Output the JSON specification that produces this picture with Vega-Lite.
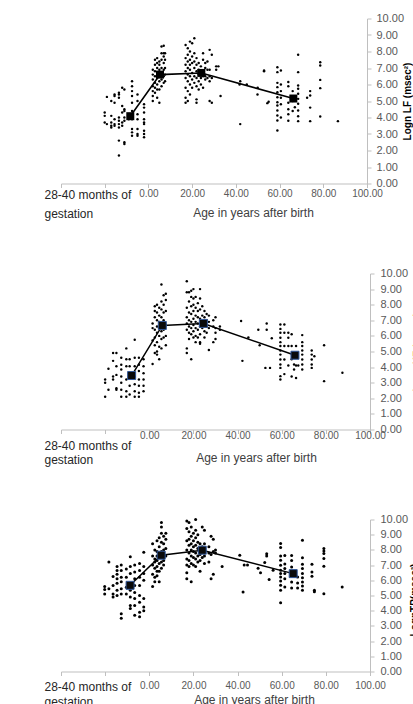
{
  "$schema": "https://vega.github.io/schema/vega-lite/v6.json",
  "padding": {"left": 44, "top": 12.5, "right": 0, "bottom": 0},
  "bounds": "flush",
  "spacing": 90,
  "config": {"view": {"stroke": null}, "font": "Liberation Sans"},
  "datasets": {
    "s1": [
      {"x":-20,"y":4.3},{"x":-20,"y":4.1},{"x":-20,"y":3.7},{"x":-19,"y":5.25},{"x":-19,"y":3.6},
      {"x":-17,"y":5.0},{"x":-17,"y":4.1},{"x":-17,"y":3.7},{"x":-17,"y":3.5},{"x":-17,"y":3.4},
      {"x":-15.5,"y":5.4},{"x":-15.5,"y":5.3},{"x":-15.5,"y":4.9},{"x":-15.5,"y":3.9},{"x":-15.5,"y":3.6},{"x":-15.5,"y":3.5},
      {"x":-13.5,"y":5.5},{"x":-13.5,"y":5.4},{"x":-13.5,"y":5.2},{"x":-13.5,"y":4.0},{"x":-13.5,"y":3.8},{"x":-13.5,"y":3.6},{"x":-13.5,"y":3.4},{"x":-13.5,"y":2.6},{"x":-13.5,"y":1.7},
      {"x":-12,"y":5.8},{"x":-12,"y":4.7},{"x":-12,"y":4.3},{"x":-12,"y":3.7},{"x":-12,"y":3.5},
      {"x":-11,"y":5.7},{"x":-11,"y":4.5},{"x":-11,"y":4.4},{"x":-11,"y":4.0},{"x":-11,"y":3.8},{"x":-11,"y":2.5},{"x":-11,"y":2.4},
      {"x":-9,"y":4.2},{"x":-9,"y":4.0},{"x":-9,"y":3.9},
      {"x":-7.5,"y":6.2},{"x":-7.5,"y":5.9},{"x":-7.5,"y":5.6},{"x":-7.5,"y":5.3},{"x":-7.5,"y":4.9},{"x":-7.5,"y":4.4},{"x":-7.5,"y":3.9},{"x":-7.5,"y":3.3},{"x":-7.5,"y":3.1},{"x":-7.5,"y":2.9},
      {"x":-5,"y":5.4},{"x":-5,"y":5.0},{"x":-5,"y":4.2},{"x":-5,"y":3.9},{"x":-5,"y":3.3},{"x":-5,"y":3.0},{"x":-5,"y":2.9},
      {"x":-2,"y":4.8},{"x":-2,"y":4.6},{"x":-2,"y":4.3},{"x":-2,"y":3.9},{"x":-2,"y":3.7},{"x":-2,"y":3.6},{"x":-2,"y":3.2},{"x":-2,"y":3.0},{"x":-2,"y":2.8},
      {"x":2,"y":5.0},{"x":2,"y":5.3},{"x":2,"y":5.6},{"x":2,"y":5.9},{"x":2,"y":6.3},{"x":2,"y":6.6},{"x":2,"y":6.9},
      {"x":3,"y":5.5},{"x":3,"y":5.8},{"x":3,"y":6.1},{"x":3,"y":6.5},{"x":3,"y":6.8},{"x":3,"y":7.2},{"x":3,"y":7.5},
      {"x":4,"y":5.2},{"x":4,"y":5.7},{"x":4,"y":6.0},{"x":4,"y":6.4},{"x":4,"y":6.7},{"x":4,"y":7.0},{"x":4,"y":7.3},{"x":4,"y":7.6},
      {"x":5,"y":4.9},{"x":5,"y":5.7},{"x":5,"y":6.2},{"x":5,"y":6.6},{"x":5,"y":6.9},{"x":5,"y":7.2},{"x":5,"y":7.4},
      {"x":6,"y":5.9},{"x":6,"y":6.3},{"x":6,"y":6.7},{"x":6,"y":7.0},{"x":6,"y":7.5},{"x":6,"y":7.9},{"x":6,"y":8.3},
      {"x":7,"y":6.1},{"x":7,"y":6.5},{"x":7,"y":6.9},{"x":7,"y":7.3},{"x":7,"y":7.7},{"x":7,"y":7.9},{"x":7,"y":8.35},
      {"x":7.6,"y":6.2},{"x":7.6,"y":6.6},{"x":7.6,"y":7.0},{"x":7.6,"y":7.5},{"x":7.6,"y":7.9},
      {"x":17,"y":8.4},{"x":17,"y":7.6},{"x":17,"y":7.2},{"x":17,"y":6.8},{"x":17,"y":6.4},{"x":17,"y":5.8},{"x":17,"y":5.2},{"x":17,"y":4.9},
      {"x":18,"y":8.2},{"x":18,"y":7.8},{"x":18,"y":7.4},{"x":18,"y":7.0},{"x":18,"y":6.6},{"x":18,"y":6.2},{"x":18,"y":5.6},{"x":18,"y":5.0},
      {"x":19,"y":8.6},{"x":19,"y":8.0},{"x":19,"y":7.5},{"x":19,"y":7.2},{"x":19,"y":6.9},{"x":19,"y":6.5},{"x":19,"y":6.0},{"x":19,"y":5.4},
      {"x":20,"y":8.5},{"x":20,"y":7.7},{"x":20,"y":7.3},{"x":20,"y":6.7},{"x":20,"y":6.3},{"x":20,"y":5.8},
      {"x":21,"y":8.8},{"x":21,"y":7.9},{"x":21,"y":7.4},{"x":21,"y":7.0},{"x":21,"y":6.5},{"x":21,"y":6.1},
      {"x":22,"y":7.6},{"x":22,"y":7.2},{"x":22,"y":6.8},{"x":22,"y":6.4},{"x":22,"y":5.9},{"x":22,"y":5.1},{"x":22,"y":4.9},
      {"x":23,"y":7.3},{"x":23,"y":6.9},{"x":23,"y":6.6},{"x":23,"y":6.2},{"x":23,"y":5.7},
      {"x":24,"y":7.1},{"x":24,"y":6.7},{"x":24,"y":6.4},{"x":24,"y":6.0},
      {"x":25,"y":7.9},{"x":25,"y":7.5},{"x":25,"y":6.8},{"x":25,"y":6.5},{"x":25,"y":5.8},
      {"x":26,"y":7.3},{"x":26,"y":7.0},{"x":26,"y":6.5},{"x":26,"y":6.3},
      {"x":27,"y":7.4},{"x":27,"y":6.9},{"x":27,"y":6.4},
      {"x":28,"y":8.1},{"x":28,"y":6.9},{"x":28,"y":6.5},{"x":28,"y":6.2},{"x":28,"y":5.0},
      {"x":29,"y":7.8},{"x":29,"y":6.4},{"x":29,"y":4.9},{"x":31,"y":7.1},{"x":31,"y":6.9},{"x":32,"y":7.1},{"x":33,"y":5.3},
      {"x":42,"y":6.2},{"x":41.7,"y":6.0},{"x":52.9,"y":6.8},{"x":52.9,"y":6.85},{"x":49.9,"y":5.4},{"x":54.4,"y":4.87},{"x":42,"y":3.6},{"x":45,"y":6.0},{"x":55,"y":4.95},{"x":50,"y":5.8},
      {"x":59,"y":7.05},{"x":59,"y":6.75},{"x":59,"y":6.1},{"x":59,"y":5.84},{"x":59,"y":5.53},{"x":59,"y":5.23},{"x":59,"y":4.93},{"x":59,"y":4.73},{"x":59,"y":4.42},{"x":59,"y":4.12},{"x":59,"y":3.82},{"x":59,"y":3.21},
      {"x":60.6,"y":6.85},{"x":60.6,"y":6.0},{"x":60.6,"y":5.6},{"x":60.6,"y":5.2},{"x":60.6,"y":4.8},{"x":60.6,"y":4.0},
      {"x":64,"y":6.15},{"x":64,"y":5.9},{"x":64,"y":4.9},{"x":64,"y":4.5},{"x":64,"y":4.2},{"x":64,"y":3.8},
      {"x":66,"y":5.6},{"x":66,"y":5.0},{"x":66,"y":4.4},{"x":67,"y":4.62},
      {"x":68.5,"y":7.8},{"x":68.5,"y":6.75},{"x":68.5,"y":5.94},{"x":68.5,"y":5.74},{"x":68.5,"y":5.44},{"x":68.5,"y":5.13},{"x":68.5,"y":4.83},{"x":68.5,"y":4.42},{"x":68.5,"y":4.08},{"x":68.5,"y":3.78},
      {"x":72.6,"y":5.2},{"x":74,"y":5.6},{"x":74,"y":5.33},{"x":74,"y":4.6},{"x":74,"y":3.78},
      {"x":78.6,"y":7.35},{"x":78.6,"y":7.15},{"x":78.6,"y":6.28},{"x":78.6,"y":5.78},{"x":78.6,"y":4.06},{"x":86.7,"y":3.78}
    ],
    "s2": [
      {"x":-20,"y":3.2},{"x":-20,"y":3.0},{"x":-20,"y":2.1},{"x":-18.5,"y":3.9},{"x":-18.5,"y":2.55},
      {"x":-16.4,"y":4.9},{"x":-16.4,"y":4.4},{"x":-16.4,"y":3.4},{"x":-16.4,"y":3.2},
      {"x":-14.9,"y":4.9},{"x":-14.9,"y":4.05},{"x":-14.9,"y":3.5},{"x":-14.9,"y":2.65},{"x":-14.9,"y":2.55},
      {"x":-12.7,"y":4.6},{"x":-12.7,"y":4.15},{"x":-12.7,"y":3.85},{"x":-12.7,"y":3.4},{"x":-12.7,"y":3.0},{"x":-12.7,"y":2.55},{"x":-12.7,"y":2.1},
      {"x":-10.4,"y":5.2},{"x":-10.4,"y":4.5},{"x":-10.4,"y":4.05},{"x":-10.4,"y":3.2},{"x":-10.4,"y":2.45},{"x":-10.4,"y":2.1},
      {"x":-8.9,"y":4.5},{"x":-8.9,"y":4.05},{"x":-8.9,"y":3.4},{"x":-8.9,"y":2.8},{"x":-8.9,"y":2.25},
      {"x":-6.6,"y":5.75},{"x":-6.6,"y":4.6},{"x":-6.6,"y":4.05},{"x":-6.6,"y":3.4},{"x":-6.6,"y":2.9},{"x":-6.6,"y":2.45},{"x":-6.6,"y":2.1},
      {"x":-4.7,"y":4.6},{"x":-4.7,"y":4.15},{"x":-4.7,"y":3.75},{"x":-4.7,"y":3.2},{"x":-4.7,"y":2.8},{"x":-4.7,"y":2.35},{"x":-4.7,"y":2.1},
      {"x":-2.6,"y":4.5},{"x":-2.6,"y":4.05},{"x":-2.6,"y":3.6},{"x":-2.6,"y":3.2},{"x":-2.6,"y":2.8},{"x":-2.6,"y":2.45},
      {"x":1.5,"y":4.2},{"x":1.5,"y":5.7},{"x":1.5,"y":6.5},{"x":1.5,"y":6.8},
      {"x":2.5,"y":7.9},{"x":2.5,"y":7.6},{"x":2.5,"y":7.2},{"x":2.5,"y":6.4},{"x":2.5,"y":5.9},{"x":2.5,"y":5.4},{"x":2.5,"y":4.9},
      {"x":3.5,"y":8.0},{"x":3.5,"y":7.5},{"x":3.5,"y":7.0},{"x":3.5,"y":6.6},{"x":3.5,"y":6.2},{"x":3.5,"y":5.6},{"x":3.5,"y":5.0},{"x":3.5,"y":4.8},
      {"x":4.5,"y":7.8},{"x":4.5,"y":7.3},{"x":4.5,"y":6.9},{"x":4.5,"y":6.5},{"x":4.5,"y":6.0},{"x":4.5,"y":5.3},{"x":4.5,"y":4.5},
      {"x":5.5,"y":9.3},{"x":5.5,"y":8.2},{"x":5.5,"y":7.7},{"x":5.5,"y":7.2},{"x":5.5,"y":6.8},{"x":5.5,"y":6.3},{"x":5.5,"y":5.8},{"x":5.5,"y":5.2},
      {"x":6.5,"y":8.6},{"x":6.5,"y":8.0},{"x":6.5,"y":7.5},{"x":6.5,"y":7.0},{"x":6.5,"y":6.4},{"x":6.5,"y":5.9},
      {"x":7.5,"y":8.7},{"x":7.5,"y":8.3},{"x":7.5,"y":7.6},{"x":7.5,"y":6.7},{"x":7.5,"y":6.0},{"x":7.5,"y":5.4},
      {"x":17,"y":9.5},{"x":17,"y":8.8},{"x":17,"y":7.8},{"x":17,"y":7.2},{"x":17,"y":6.8},{"x":17,"y":6.4},{"x":17,"y":5.2},{"x":17,"y":4.9},
      {"x":18,"y":8.8},{"x":18,"y":8.2},{"x":18,"y":7.5},{"x":18,"y":7.0},{"x":18,"y":6.6},{"x":18,"y":6.2},{"x":18,"y":5.8},
      {"x":19,"y":8.9},{"x":19,"y":8.5},{"x":19,"y":7.9},{"x":19,"y":7.4},{"x":19,"y":6.9},{"x":19,"y":6.5},{"x":19,"y":6.1},{"x":19,"y":4.5},
      {"x":20,"y":9.0},{"x":20,"y":8.4},{"x":20,"y":8.0},{"x":20,"y":7.6},{"x":20,"y":7.1},{"x":20,"y":6.7},{"x":20,"y":6.3},{"x":20,"y":5.9},
      {"x":21,"y":8.5},{"x":21,"y":7.8},{"x":21,"y":7.3},{"x":21,"y":6.9},{"x":21,"y":6.5},{"x":21,"y":6.0},{"x":21,"y":5.6},
      {"x":22,"y":8.1},{"x":22,"y":7.6},{"x":22,"y":7.2},{"x":22,"y":6.8},{"x":22,"y":6.4},{"x":22,"y":5.9},
      {"x":23,"y":9.0},{"x":23,"y":8.4},{"x":23,"y":7.7},{"x":23,"y":7.1},{"x":23,"y":6.6},{"x":23,"y":6.1},{"x":23,"y":5.6},{"x":23,"y":5.5},
      {"x":24,"y":7.9},{"x":24,"y":7.3},{"x":24,"y":6.9},{"x":24,"y":6.5},
      {"x":25,"y":7.6},{"x":25,"y":7.2},{"x":25,"y":6.8},{"x":25,"y":6.3},{"x":25,"y":5.9},
      {"x":26,"y":7.4},{"x":26,"y":7.0},{"x":26,"y":6.6},{"x":26,"y":6.2},
      {"x":27,"y":7.3},{"x":27,"y":6.9},{"x":27,"y":6.5},{"x":27,"y":5.1},
      {"x":29,"y":7.0},{"x":29,"y":6.6},{"x":29,"y":5.6},{"x":30,"y":7.2},{"x":30,"y":6.5},{"x":30,"y":6.2},{"x":30,"y":5.8},{"x":32,"y":6.6},{"x":32,"y":6.4},
      {"x":41.6,"y":6.95},{"x":42.2,"y":4.4},{"x":44.9,"y":5.9},{"x":49.4,"y":6.4},{"x":50,"y":5.4},{"x":53.2,"y":6.8},{"x":53.2,"y":6.4},{"x":55.5,"y":5.85},{"x":52.6,"y":3.95},{"x":54.7,"y":3.95},
      {"x":59.4,"y":6.73},{"x":59.4,"y":6.45},{"x":59.4,"y":6.2},{"x":59.4,"y":5.88},{"x":59.4,"y":5.6},{"x":59.4,"y":5.35},{"x":59.4,"y":5.06},{"x":59.4,"y":4.8},{"x":59.4,"y":4.49},{"x":59.4,"y":4.17},{"x":59.4,"y":3.95},{"x":59.4,"y":3.42},{"x":59.4,"y":3.2},
      {"x":61.2,"y":6.73},{"x":61.2,"y":6.2},{"x":61.2,"y":5.35},{"x":61.2,"y":4.49},{"x":61.2,"y":3.55},
      {"x":63,"y":6.2},{"x":63,"y":5.88},{"x":63,"y":5.35},{"x":63,"y":4.1},
      {"x":64.5,"y":6.1},{"x":64.5,"y":5.35},{"x":64.5,"y":4.5},{"x":64.5,"y":3.4},
      {"x":65.6,"y":4.17},{"x":65.6,"y":3.85},{"x":66.5,"y":5.35},{"x":66.5,"y":4.1},{"x":66.5,"y":3.3},{"x":67.5,"y":4.1},
      {"x":69.3,"y":6.05},{"x":69.3,"y":5.6},{"x":69.3,"y":5.35},{"x":69.3,"y":5.06},{"x":69.3,"y":4.8},{"x":69.3,"y":4.49},{"x":69.3,"y":4.17},{"x":69.3,"y":3.85},
      {"x":73.6,"y":5.06},{"x":73.6,"y":4.8},{"x":73.6,"y":4.49},{"x":73.6,"y":4.17},{"x":73.6,"y":3.95},{"x":74.8,"y":4.7},
      {"x":79.2,"y":5.4},{"x":79.2,"y":3.1},{"x":87.5,"y":3.64}
    ],
    "s3": [
      {"x":-20.2,"y":5.6},{"x":-20.2,"y":5.4},{"x":-20.2,"y":5.1},{"x":-18.3,"y":7.2},{"x":-18.3,"y":5.45},
      {"x":-16.4,"y":6.25},{"x":-16.4,"y":5.65},{"x":-16.4,"y":5.1},{"x":-16.4,"y":4.9},
      {"x":-14.6,"y":6.9},{"x":-14.6,"y":6.65},{"x":-14.6,"y":6.4},{"x":-14.6,"y":6.1},{"x":-14.6,"y":5.8},{"x":-14.6,"y":5.35},{"x":-14.6,"y":5.0},
      {"x":-12.7,"y":7.0},{"x":-12.7,"y":6.65},{"x":-12.7,"y":6.2},{"x":-12.7,"y":5.9},{"x":-12.7,"y":5.45},{"x":-12.7,"y":5.1},{"x":-12.7,"y":3.8},{"x":-12.7,"y":3.5},
      {"x":-10.4,"y":6.75},{"x":-10.4,"y":6.2},{"x":-10.4,"y":5.55},{"x":-10.4,"y":5.1},
      {"x":-8.6,"y":7.55},{"x":-8.6,"y":6.9},{"x":-8.6,"y":6.45},{"x":-8.6,"y":5.8},{"x":-8.6,"y":5.35},{"x":-8.6,"y":4.9},{"x":-8.6,"y":4.35},{"x":-8.6,"y":4.15},
      {"x":-6.6,"y":7.0},{"x":-6.6,"y":6.55},{"x":-6.6,"y":6.1},{"x":-6.6,"y":5.65},{"x":-6.6,"y":5.2},{"x":-6.6,"y":4.8},{"x":-6.6,"y":4.35},{"x":-6.6,"y":3.7},
      {"x":-4.4,"y":7.1},{"x":-4.4,"y":6.65},{"x":-4.4,"y":6.2},{"x":-4.4,"y":5.65},{"x":-4.4,"y":5.0},{"x":-4.4,"y":4.55},{"x":-4.4,"y":3.9},{"x":-4.4,"y":3.6},
      {"x":-2.5,"y":7.85},{"x":-2.5,"y":6.9},{"x":-2.5,"y":6.45},{"x":-2.5,"y":6.0},{"x":-2.5,"y":4.8},{"x":-2.5,"y":4.25},{"x":-2.5,"y":4.0},
      {"x":1.5,"y":8.4},{"x":1.5,"y":7.6},{"x":1.5,"y":7.0},{"x":1.5,"y":6.4},{"x":1.5,"y":5.6},
      {"x":2.5,"y":8.0},{"x":2.5,"y":7.4},{"x":2.5,"y":7.2},{"x":2.5,"y":6.8},{"x":2.5,"y":6.2},{"x":2.5,"y":5.9},
      {"x":3.5,"y":8.6},{"x":3.5,"y":7.9},{"x":3.5,"y":7.6},{"x":3.5,"y":7.3},{"x":3.5,"y":6.9},{"x":3.5,"y":6.6},{"x":3.5,"y":6.3},
      {"x":4.5,"y":8.8},{"x":4.5,"y":8.2},{"x":4.5,"y":7.8},{"x":4.5,"y":7.5},{"x":4.5,"y":7.1},{"x":4.5,"y":6.6},{"x":4.5,"y":5.9},
      {"x":5.5,"y":9.8},{"x":5.5,"y":9.5},{"x":5.5,"y":9.1},{"x":5.5,"y":8.5},{"x":5.5,"y":7.9},{"x":5.5,"y":7.6},{"x":5.5,"y":7.2},{"x":5.5,"y":6.8},
      {"x":6.5,"y":8.9},{"x":6.5,"y":8.4},{"x":6.5,"y":8.0},{"x":6.5,"y":7.7},{"x":6.5,"y":7.3},{"x":6.5,"y":7.0},
      {"x":7.5,"y":9.1},{"x":7.5,"y":8.7},{"x":7.5,"y":8.1},{"x":7.5,"y":7.6},
      {"x":17,"y":9.9},{"x":17,"y":9.4},{"x":17,"y":8.6},{"x":17,"y":8.0},{"x":17,"y":7.4},{"x":17,"y":7.0},{"x":17,"y":6.5},{"x":17,"y":6.1},
      {"x":18,"y":9.8},{"x":18,"y":9.2},{"x":18,"y":8.7},{"x":18,"y":8.3},{"x":18,"y":7.8},{"x":18,"y":7.3},{"x":18,"y":6.9},
      {"x":19,"y":9.5},{"x":19,"y":8.9},{"x":19,"y":8.4},{"x":19,"y":8.0},{"x":19,"y":7.6},{"x":19,"y":7.1},{"x":19,"y":5.9},
      {"x":20,"y":9.1},{"x":20,"y":8.6},{"x":20,"y":8.2},{"x":20,"y":7.9},{"x":20,"y":7.5},{"x":20,"y":7.0},
      {"x":21,"y":10.0},{"x":21,"y":9.3},{"x":21,"y":8.8},{"x":21,"y":8.3},{"x":21,"y":7.8},{"x":21,"y":7.4},{"x":21,"y":6.9},
      {"x":22,"y":9.0},{"x":22,"y":8.5},{"x":22,"y":8.1},{"x":22,"y":7.6},{"x":22,"y":7.2},
      {"x":23,"y":8.4},{"x":23,"y":8.0},{"x":23,"y":7.7},{"x":23,"y":7.3},{"x":23,"y":6.6},
      {"x":24,"y":9.5},{"x":24,"y":8.2},{"x":24,"y":7.9},{"x":24,"y":7.5},
      {"x":25,"y":9.3},{"x":25,"y":8.4},{"x":25,"y":8.0},{"x":25,"y":7.6},{"x":25,"y":7.1},
      {"x":27,"y":8.2},{"x":27,"y":7.8},{"x":27,"y":7.2},{"x":28,"y":8.9},{"x":28,"y":7.7},{"x":28,"y":6.1},
      {"x":29,"y":8.7},{"x":29,"y":7.9},{"x":29,"y":6.4},{"x":30,"y":8.0},{"x":30,"y":7.8},{"x":33,"y":6.9},
      {"x":41,"y":7.65},{"x":42.5,"y":5.23},{"x":43,"y":7.0},{"x":44.5,"y":7.0},{"x":49.3,"y":6.8},{"x":50.4,"y":6.5},{"x":53.2,"y":7.75},{"x":53.2,"y":7.6},{"x":52.3,"y":7.17},{"x":54.3,"y":6.06},{"x":56.1,"y":6.66},
      {"x":59.5,"y":8.42},{"x":59.5,"y":8.15},{"x":59.5,"y":7.6},{"x":59.5,"y":7.32},{"x":59.5,"y":6.99},{"x":59.5,"y":6.66},{"x":59.5,"y":6.44},{"x":59.5,"y":6.22},{"x":59.5,"y":5.95},{"x":59.5,"y":5.67},{"x":59.5,"y":5.34},{"x":59.5,"y":4.53},
      {"x":61.4,"y":7.63},{"x":61.4,"y":7.08},{"x":61.4,"y":6.77},{"x":61.4,"y":6.44},{"x":61.4,"y":6.11},{"x":61.4,"y":5.56},
      {"x":64.5,"y":7.63},{"x":64.5,"y":7.3},{"x":64.5,"y":6.88},{"x":64.5,"y":6.44},{"x":64.5,"y":5.89},{"x":64.5,"y":5.5},
      {"x":66,"y":6.6},{"x":66,"y":6.3},{"x":67.2,"y":6.22},{"x":67.2,"y":5.83},{"x":67.2,"y":5.5},
      {"x":69.4,"y":8.63},{"x":69.4,"y":7.49},{"x":69.4,"y":7.05},{"x":69.4,"y":6.77},{"x":69.4,"y":6.44},{"x":69.4,"y":6.17},{"x":69.4,"y":5.89},{"x":69.4,"y":5.62},{"x":69.4,"y":5.34},
      {"x":73.7,"y":7.05},{"x":73.7,"y":6.55},{"x":73.7,"y":6.27},{"x":74.8,"y":5.34},{"x":74.8,"y":5.25},
      {"x":79.1,"y":8.09},{"x":79.1,"y":7.93},{"x":79.1,"y":7.76},{"x":79.1,"y":7.43},{"x":79.1,"y":6.92},{"x":79.1,"y":5.12},{"x":87.4,"y":5.56}
    ],
    "m1": [{"x":-8.3,"y":4.08},{"x":5.3,"y":6.6},{"x":24.2,"y":6.7},{"x":66.3,"y":5.15}],
    "m2": [{"x":-8,"y":3.46},{"x":5.9,"y":6.67},{"x":24.5,"y":6.8},{"x":66,"y":4.76}],
    "m3": [{"x":-8.7,"y":5.67},{"x":5.4,"y":7.65},{"x":24,"y":7.98},{"x":65.2,"y":6.44}]
  },
  "vconcat": [
    {
      "width": 306, "height": 165,
      "encoding": {
        "x": {"field": "x", "type": "quantitative", "scale": {"domain": [-40, 100], "nice": false, "zero": false},
              "axis": {"values": [-40, -20, 0, 20, 40, 60, 80, 100], "labelExpr": "datum.value == -40 ? ['28-40 months of', 'gestation'] : datum.value >= 0 ? format(datum.value, '.2f') : ''",
                       "labelAlign": {"condition": {"test": "datum.value == -40", "value": "left"}, "value": "center"},
                       "labelOffset": {"condition": {"test": "datum.value == -40", "value": -17}, "value": 0},
                       "labelFontSize": {"condition": {"test": "datum.value == -40", "value": 12}, "value": 10},
                       "labelColor": {"condition": {"test": "datum.value == -40", "value": "#262626"}, "value": "#595959"},
                       "labelPadding": {"condition": {"test": "datum.value == -40", "value": 2}, "value": 1},
                       "labelLineHeight": 19, "labelBaseline": "top",
                       "title": "Age in years after birth", "titleX": 192, "titleY": 29, "titleBaseline": "middle", "titleFontSize": 12, "titleFontWeight": "normal", "titleColor": "#404040", "tickSize": 4, "tickColor": "#bfbfbf", "domainColor": "#bfbfbf", "grid": false, "labelFlush": false, "labelOverlap": false}},
        "y": {"field": "y", "type": "quantitative", "scale": {"domain": [0, 10], "nice": false, "zero": false},
              "axis": {"orient": "right", "tickCount": 10, "format": ".2f", "title": "Logn LF (msec²)", "titleAngle": 270, "titleX": 40, "titleY": 82.5, "titleAlign": "center", "titleBaseline": "middle", "titleFontSize": 10, "titleFontWeight": "bold", "titleColor": "#000000", "labelFontSize": 11, "labelColor": "#595959", "labelPadding": 5, "tickSize": 4, "tickColor": "#bfbfbf", "domainColor": "#bfbfbf", "grid": false, "labelFlush": false, "labelOverlap": false}}
      },
      "layer": [
        {"data": {"name": "s1"}, "mark": {"type": "circle", "size": 6, "color": "#000000", "opacity": 1}},
        {"data": {"name": "m1"}, "mark": {"type": "line", "color": "#000000", "strokeWidth": 1.6}},
        {"data": {"name": "m1"}, "mark": {"type": "point", "shape": "square", "size": 64, "filled": true, "color": "#000000", "opacity": 1}}
      ]
    },
    {
      "width": 309, "height": 156,
      "encoding": {
        "x": {"field": "x", "type": "quantitative", "scale": {"domain": [-40, 100], "nice": false, "zero": false},
              "axis": {"values": [-40, -20, 0, 20, 40, 60, 80, 100], "labelExpr": "datum.value == -40 ? ['28-40 months of', 'gestation'] : datum.value >= 0 ? format(datum.value, '.2f') : ''",
                       "labelAlign": {"condition": {"test": "datum.value == -40", "value": "left"}, "value": "center"},
                       "labelOffset": {"condition": {"test": "datum.value == -40", "value": -17}, "value": 0},
                       "labelFontSize": {"condition": {"test": "datum.value == -40", "value": 12}, "value": 10},
                       "labelColor": {"condition": {"test": "datum.value == -40", "value": "#262626"}, "value": "#595959"},
                       "labelPadding": {"condition": {"test": "datum.value == -40", "value": 6.5}, "value": -3},
                       "labelLineHeight": 14.5, "labelBaseline": "top",
                       "title": "Age in years after birth", "titleX": 195, "titleY": 27.5, "titleBaseline": "middle", "titleFontSize": 12, "titleFontWeight": "normal", "titleColor": "#404040", "tickSize": 4, "tickColor": "#bfbfbf", "domainColor": "#bfbfbf", "grid": false, "labelFlush": false, "labelOverlap": false}},
        "y": {"field": "y", "type": "quantitative", "scale": {"domain": [0, 10], "nice": false, "zero": false},
              "axis": {"orient": "right", "tickCount": 10, "format": ".2f", "title": "Logn HF (msec²)", "titleAngle": 270, "titleX": 47, "titleY": 78, "titleAlign": "center", "titleBaseline": "middle", "titleFontSize": 10, "titleFontWeight": "bold", "titleColor": "#000000", "labelFontSize": 11, "labelColor": "#595959", "labelPadding": 6, "tickSize": 4, "tickColor": "#bfbfbf", "domainColor": "#bfbfbf", "grid": false, "labelFlush": false, "labelOverlap": false}}
      },
      "layer": [
        {"data": {"name": "s2"}, "mark": {"type": "circle", "size": 6, "color": "#000000", "opacity": 1}},
        {"data": {"name": "m2"}, "mark": {"type": "line", "color": "#000000", "strokeWidth": 1.5}},
        {"data": {"name": "m2"}, "mark": {"type": "point", "shape": "square", "size": 64, "filled": true, "fill": "#0a0a0a", "stroke": "#2f5597", "strokeWidth": 1, "opacity": 1}}
      ]
    },
    {
      "width": 309, "height": 152,
      "encoding": {
        "x": {"field": "x", "type": "quantitative", "scale": {"domain": [-40, 100], "nice": false, "zero": false},
              "axis": {"values": [-40, -20, 0, 20, 40, 60, 80, 100], "labelExpr": "datum.value == -40 ? ['28-40 months of', 'gestation'] : datum.value >= 0 ? format(datum.value, '.2f') : ''",
                       "labelAlign": {"condition": {"test": "datum.value == -40", "value": "left"}, "value": "center"},
                       "labelOffset": {"condition": {"test": "datum.value == -40", "value": -17}, "value": 0},
                       "labelFontSize": {"condition": {"test": "datum.value == -40", "value": 12}, "value": 10},
                       "labelColor": {"condition": {"test": "datum.value == -40", "value": "#262626"}, "value": "#595959"},
                       "labelPadding": {"condition": {"test": "datum.value == -40", "value": 5.5}, "value": 5},
                       "labelLineHeight": 15, "labelBaseline": "top",
                       "title": "Age in years after birth", "titleX": 193, "titleY": 28, "titleBaseline": "middle", "titleFontSize": 12, "titleFontWeight": "normal", "titleColor": "#404040", "tickSize": 4, "tickColor": "#bfbfbf", "domainColor": "#bfbfbf", "grid": false, "labelFlush": false, "labelOverlap": false}},
        "y": {"field": "y", "type": "quantitative", "scale": {"domain": [0, 10], "nice": false, "zero": false},
              "axis": {"orient": "right", "tickCount": 10, "format": ".2f", "title": "LognTP(msec²)", "titleAngle": 270, "titleX": 44, "titleY": 80, "titleAlign": "center", "titleBaseline": "middle", "titleFontSize": 10, "titleFontWeight": "bold", "titleColor": "#000000", "labelFontSize": 11, "labelColor": "#595959", "labelPadding": 6, "tickSize": 4, "tickColor": "#bfbfbf", "domainColor": "#bfbfbf", "grid": false, "labelFlush": false, "labelOverlap": false}}
      },
      "layer": [
        {"data": {"name": "s3"}, "mark": {"type": "circle", "size": 9, "color": "#000000", "opacity": 1}},
        {"data": {"name": "m3"}, "mark": {"type": "line", "color": "#000000", "strokeWidth": 1.5}},
        {"data": {"name": "m3"}, "mark": {"type": "point", "shape": "square", "size": 64, "filled": true, "fill": "#0a0a0a", "stroke": "#2f5597", "strokeWidth": 1, "opacity": 1}}
      ]
    }
  ]
}
